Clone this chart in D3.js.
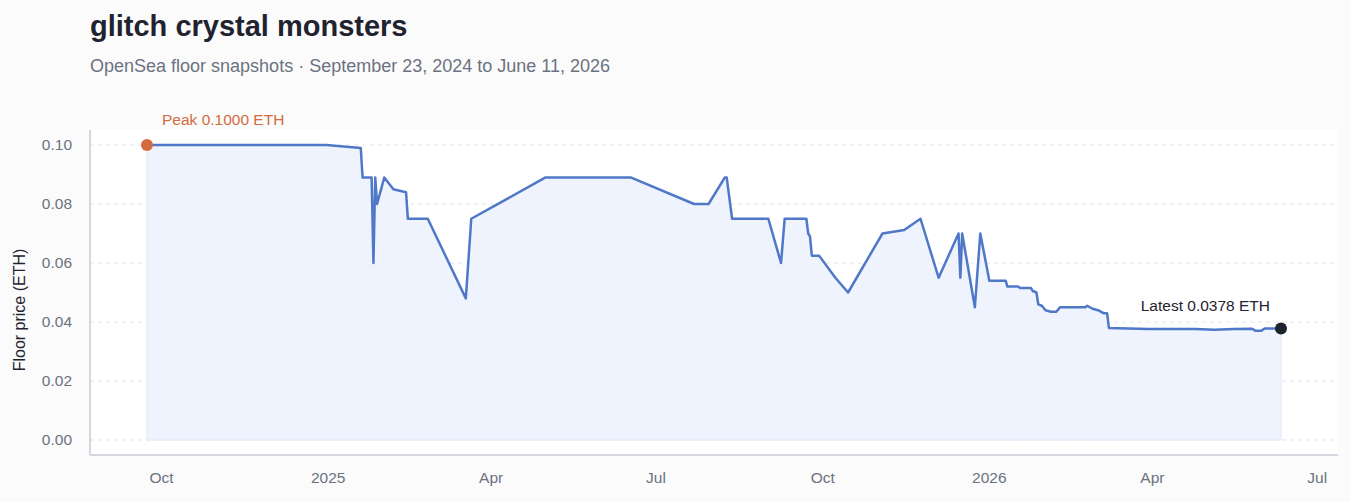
<!DOCTYPE html>
<html><head><meta charset="utf-8">
<script src="https://cdn.jsdelivr.net/npm/d3@7"></script>
<style>
body{margin:0;background:#fbfbfb;font-family:"Liberation Sans",Arial,sans-serif}
</style></head><body>
<svg id="chart" width="1350" height="502"></svg>
<script>
const dates = [
  "2024-09-23","2024-12-31","2025-01-19","2025-01-20","2025-01-25","2025-01-26","2025-01-27","2025-01-28",
  "2025-02-01","2025-02-06","2025-02-13","2025-02-14","2025-02-25","2025-03-18","2025-03-21","2025-05-01",
  "2025-06-17","2025-07-22","2025-07-30","2025-08-08","2025-08-09","2025-08-12","2025-09-01","2025-09-08",
  "2025-09-10","2025-09-22","2025-09-23","2025-09-24","2025-09-25","2025-09-29","2025-10-08","2025-10-15",
  "2025-11-03","2025-11-15","2025-11-24","2025-12-04","2025-12-15","2025-12-16","2025-12-17","2025-12-24",
  "2025-12-27","2026-01-01","2026-01-10","2026-01-11","2026-01-17","2026-01-18","2026-01-24","2026-01-25",
  "2026-01-27","2026-01-28","2026-01-30","2026-02-01","2026-02-04","2026-02-07","2026-02-09","2026-02-23",
  "2026-02-24","2026-02-27","2026-03-02","2026-03-05","2026-03-07","2026-03-08","2026-03-30","2026-04-25",
  "2026-05-05","2026-05-16","2026-05-26","2026-05-28","2026-05-31","2026-06-02","2026-06-11"
];
const prices = [
  0.100,0.100,0.099,0.089,0.089,0.060,0.089,0.080,
  0.089,0.085,0.084,0.075,0.075,0.048,0.075,0.089,
  0.089,0.080,0.080,0.089,0.089,0.075,0.075,0.060,
  0.075,0.075,0.070,0.069,0.0625,0.0625,0.055,0.050,
  0.070,0.0712,0.075,0.055,0.070,0.055,0.070,0.045,
  0.070,0.054,0.054,0.052,0.052,0.0515,0.0515,0.0505,
  0.050,0.046,0.0455,0.044,0.0435,0.0435,0.045,0.045,
  0.0455,0.0445,0.044,0.043,0.043,0.038,0.0376,0.0376,
  0.0374,0.0376,0.0377,0.0370,0.0370,0.0378,0.0378
];
const yTicks = [0, 0.02, 0.04, 0.06, 0.08, 0.10];
const xTicks = ["2024-10-01","2025-01-01","2025-04-01","2025-07-01","2025-10-01","2026-01-01","2026-04-01","2026-07-01"];

const parse = d3.timeParse("%Y-%m-%d");
const data = dates.map((d, i) => ({date: parse(d), v: prices[i]}));
const svg = d3.select("#chart");
const L = 90, R = 1338, T = 130, B = 455;

const x = d3.scaleTime().domain([parse("2024-09-23"), parse("2026-06-11")]).range([147, 1281]);
const y = d3.scaleLinear().domain([0, 0.1]).range([440, 145]);

svg.append("text").attr("x", 90).attr("y", 36).attr("font-size", 29).attr("font-weight", "bold")
  .attr("fill", "#1f2330").text("glitch crystal monsters");
svg.append("text").attr("x", 90).attr("y", 72).attr("font-size", 18).attr("fill", "#6b7280")
  .text("OpenSea floor snapshots · September 23, 2024 to June 11, 2026");

svg.append("rect").attr("x", L).attr("y", T).attr("width", R - L).attr("height", B - T).attr("fill", "#fff");

svg.selectAll(".grid").data(yTicks).enter().append("line")
  .attr("x1", L).attr("x2", R).attr("y1", d => y(d)).attr("y2", d => y(d))
  .attr("stroke", "#e3e5ea").attr("stroke-dasharray", "4,4");

svg.selectAll(".ytl").data(yTicks).enter().append("text")
  .attr("x", 72).attr("y", d => y(d) + 5).attr("text-anchor", "end").attr("font-size", 15.5).attr("fill", "#6b7280")
  .text(d => d3.format(".2f")(d));
svg.selectAll(".xtl").data(xTicks).enter().append("text")
  .attr("x", d => x(parse(d))).attr("y", 483).attr("text-anchor", "middle").attr("font-size", 15.5).attr("fill", "#6b7280")
  .text(d => { const t = parse(d); return t.getMonth() === 0 ? t.getFullYear() : d3.timeFormat("%b")(t); });
svg.append("text").attr("transform", "translate(25,310) rotate(-90)").attr("text-anchor", "middle")
  .attr("font-size", 16).attr("fill", "#1f2330").text("Floor price (ETH)");

svg.append("line").attr("x1", L).attr("x2", L).attr("y1", T).attr("y2", B).attr("stroke", "#d5d7e0").attr("stroke-width", 2);
svg.append("line").attr("x1", L).attr("x2", R).attr("y1", B).attr("y2", B).attr("stroke", "#d5d7e0").attr("stroke-width", 2);

svg.append("path").datum(data)
  .attr("d", d3.area().x(d => x(d.date)).y0(y(0)).y1(d => y(d.v)))
  .attr("fill", "#eef3fd").attr("stroke", "#dfe7f8");
svg.append("path").datum(data)
  .attr("d", d3.line().x(d => x(d.date)).y(d => y(d.v)))
  .attr("fill", "none").attr("stroke", "#4f78c8").attr("stroke-width", 2.5).attr("stroke-linejoin", "round");

const first = data[0], last = data[data.length - 1];
svg.append("circle").attr("cx", x(first.date)).attr("cy", y(first.v)).attr("r", 6).attr("fill", "#d46b3f");
svg.append("text").attr("x", x(first.date) + 15).attr("y", y(first.v) - 20).attr("font-size", 15.5).attr("fill", "#d46b3f")
  .text("Peak " + first.v.toFixed(4) + " ETH");
svg.append("circle").attr("cx", x(last.date)).attr("cy", y(last.v)).attr("r", 6).attr("fill", "#1f2330");
svg.append("text").attr("x", x(last.date) - 11).attr("y", y(last.v) - 17).attr("text-anchor", "end").attr("font-size", 15.5)
  .attr("fill", "#1f2330").text("Latest " + last.v.toFixed(4) + " ETH");
</script></body></html>
